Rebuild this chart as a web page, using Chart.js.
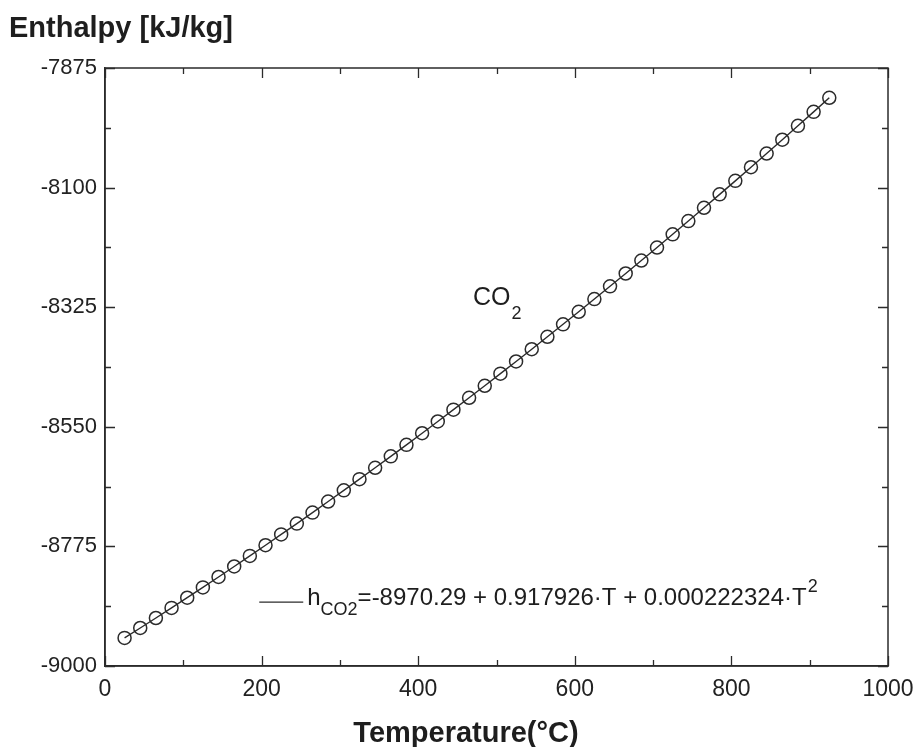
<!DOCTYPE html>
<html>
<head>
<meta charset="utf-8">
<script src="https://cdn.jsdelivr.net/npm/chart.js@4.4.1/dist/chart.umd.min.js"></script>
<style>
  html, body { margin: 0; padding: 0; background: #ffffff; }
  #wrap { width: 915px; height: 747px; }
</style>
</head>
<body>
<div id="wrap"><canvas id="c" width="915" height="747"></canvas></div>
<script>
// ---- data ----
const temperatures = [25, 45, 65, 85, 105, 125, 145, 165, 185, 205, 225, 245, 265, 285, 305, 325,
  345, 365, 385, 405, 425, 445, 465, 485, 505, 525, 545, 565, 585, 605, 625, 645, 665, 685, 705,
  725, 745, 765, 785, 805, 825, 845, 865, 885, 905, 925];
const enthalpyCO2 = [-8947.2, -8928.5, -8909.7, -8890.7, -8871.5, -8852.1, -8832.5, -8812.8, -8792.9,
  -8772.8, -8752.5, -8732.1, -8711.4, -8690.6, -8669.6, -8648.5, -8627.1, -8605.6, -8583.9, -8562.1,
  -8540.0, -8517.8, -8495.4, -8472.8, -8450.0, -8427.1, -8404.0, -8380.7, -8357.2, -8333.6, -8309.7,
  -8285.7, -8261.6, -8237.2, -8212.7, -8187.9, -8163.0, -8138.0, -8112.7, -8087.3, -8061.7, -8035.9,
  -8009.9, -7983.8, -7957.5, -7931.0];
const xTickValues = [0, 200, 400, 600, 800, 1000];
const xTickLabels = ['0', '200', '400', '600', '800', '1000'];
const xMinorValues = [100, 300, 500, 700, 900];
const yTickValues = [-9000, -8775, -8550, -8325, -8100, -7875];
const yTickLabels = ['-9000', '-8775', '-8550', '-8325', '-8100', '-7875'];
const yMinorValues = [-8887.5, -8662.5, -8437.5, -8212.5, -7987.5];
const yAxisTitle = 'Enthalpy [kJ/kg]';
const xAxisTitle = 'Temperature(°C)';
const seriesLabel = { main: 'CO', sub: '2' };
const equation = { lead: 'h', sub: 'CO2', body: '=-8970.29 + 0.917926·T + 0.000222324·T', sup: '2' };
const seriesLabelAt = { x: 470, y: -8321 };
const equationAt = { x: 197, y: -8880 };

const INK = '#2b2b2b';
const FONT = '"Liberation Sans", Arial, Helvetica, sans-serif';

const decor = {
  id: 'decor',
  afterDraw(chart) {
    const { ctx, chartArea: a, scales } = chart;
    const xs = scales.x, ys = scales.y;
    ctx.save();
    // frame
    ctx.strokeStyle = INK;
    ctx.lineWidth = 1.5;
    ctx.strokeRect(a.left, a.top, a.right - a.left, a.bottom - a.top);
    // inward ticks on all sides
    const major = 10, minor = 6;
    ctx.lineWidth = 1.3;
    ctx.beginPath();
    const vt = (v, len) => {
      const px = Math.round(xs.getPixelForValue(v)) + 0.5;
      ctx.moveTo(px, a.bottom); ctx.lineTo(px, a.bottom - len);
      ctx.moveTo(px, a.top); ctx.lineTo(px, a.top + len);
    };
    const ht = (v, len) => {
      const py = Math.round(ys.getPixelForValue(v)) + 0.5;
      ctx.moveTo(a.left, py); ctx.lineTo(a.left + len, py);
      ctx.moveTo(a.right, py); ctx.lineTo(a.right - len, py);
    };
    xTickValues.forEach(v => vt(v, major));
    xMinorValues.forEach(v => vt(v, minor));
    yTickValues.forEach(v => ht(v, major));
    yMinorValues.forEach(v => ht(v, minor));
    ctx.stroke();

    ctx.fillStyle = '#1e1e1e';
    ctx.textBaseline = 'alphabetic';
    // axis titles
    ctx.font = 'bold 29px ' + FONT;
    ctx.textAlign = 'left';
    ctx.fillText(yAxisTitle, 9, 37);
    ctx.textAlign = 'center';
    ctx.fillText(xAxisTitle, 466, 742);

    // series label CO2
    ctx.textAlign = 'left';
    ctx.font = '25px ' + FONT;
    let sx = xs.getPixelForValue(seriesLabelAt.x);
    let sy = ys.getPixelForValue(seriesLabelAt.y);
    ctx.fillText(seriesLabel.main, sx, sy);
    let w = ctx.measureText(seriesLabel.main).width;
    ctx.font = '18px ' + FONT;
    ctx.fillText(seriesLabel.sub, sx + w + 1, sy + 14);

    // equation legend
    const ex = xs.getPixelForValue(equationAt.x);
    const ey = ys.getPixelForValue(equationAt.y);
    ctx.strokeStyle = INK;
    ctx.lineWidth = 1.3;
    ctx.beginPath();
    ctx.moveTo(ex, ey); ctx.lineTo(ex + 44, ey);
    ctx.stroke();
    let tx = ex + 48;
    const base = ey + 3;
    ctx.font = '24px ' + FONT;
    ctx.fillText(equation.lead, tx, base);
    tx += ctx.measureText(equation.lead).width;
    ctx.font = '18px ' + FONT;
    ctx.fillText(equation.sub, tx, base + 10);
    tx += ctx.measureText(equation.sub).width;
    ctx.font = '24px ' + FONT;
    ctx.fillText(equation.body, tx, base);
    tx += ctx.measureText(equation.body).width;
    ctx.font = '18px ' + FONT;
    ctx.fillText(equation.sup, tx + 1, base - 13);
    ctx.restore();
  }
};

new Chart(document.getElementById('c'), {
  type: 'line',
  data: {
    labels: temperatures,
    datasets: [{
      label: 'CO2',
      data: temperatures.map((t, i) => ({ x: t, y: enthalpyCO2[i] })),
      borderColor: INK,
      borderWidth: 1.4,
      backgroundColor: 'rgba(0,0,0,0)',
      pointStyle: 'circle',
      pointRadius: 6.5,
      pointBorderWidth: 1.5,
      pointBorderColor: INK,
      pointBackgroundColor: 'rgba(0,0,0,0)',
      tension: 0,
      fill: false
    }]
  },
  options: {
    responsive: false,
    animation: false,
    events: [],
    layout: { padding: { top: 68, right: 27, left: 0, bottom: 0 } },
    plugins: { legend: { display: false }, title: { display: false }, tooltip: { enabled: false } },
    scales: {
      x: {
        type: 'linear', min: 0, max: 1000,
        afterBuildTicks: s => { s.ticks = xTickValues.map(v => ({ value: v })); },
        afterFit: s => { s.height = 81; s.paddingLeft = 0; s.paddingRight = 0; },
        grid: { display: false, drawTicks: false },
        border: { display: true, color: INK, width: 1.5 },
        ticks: {
          padding: 10, color: '#222', font: { family: FONT, size: 23 },
          maxRotation: 0, autoSkip: false,
          callback: (v) => { const i = xTickValues.indexOf(v); return i >= 0 ? xTickLabels[i] : ''; }
        }
      },
      y: {
        type: 'linear', min: -9000, max: -7875,
        afterBuildTicks: s => { s.ticks = yTickValues.map(v => ({ value: v })); },
        afterFit: s => { s.width = 105; s.paddingTop = 0; s.paddingBottom = 0; },
        grid: { display: false, drawTicks: false },
        border: { display: true, color: INK, width: 1.5 },
        ticks: {
          padding: 8, color: '#222', font: { family: FONT, size: 22 },
          autoSkip: false,
          callback: (v) => { const i = yTickValues.indexOf(v); return i >= 0 ? yTickLabels[i] : ''; }
        }
      }
    }
  },
  plugins: [decor]
});
</script>
</body>
</html>
